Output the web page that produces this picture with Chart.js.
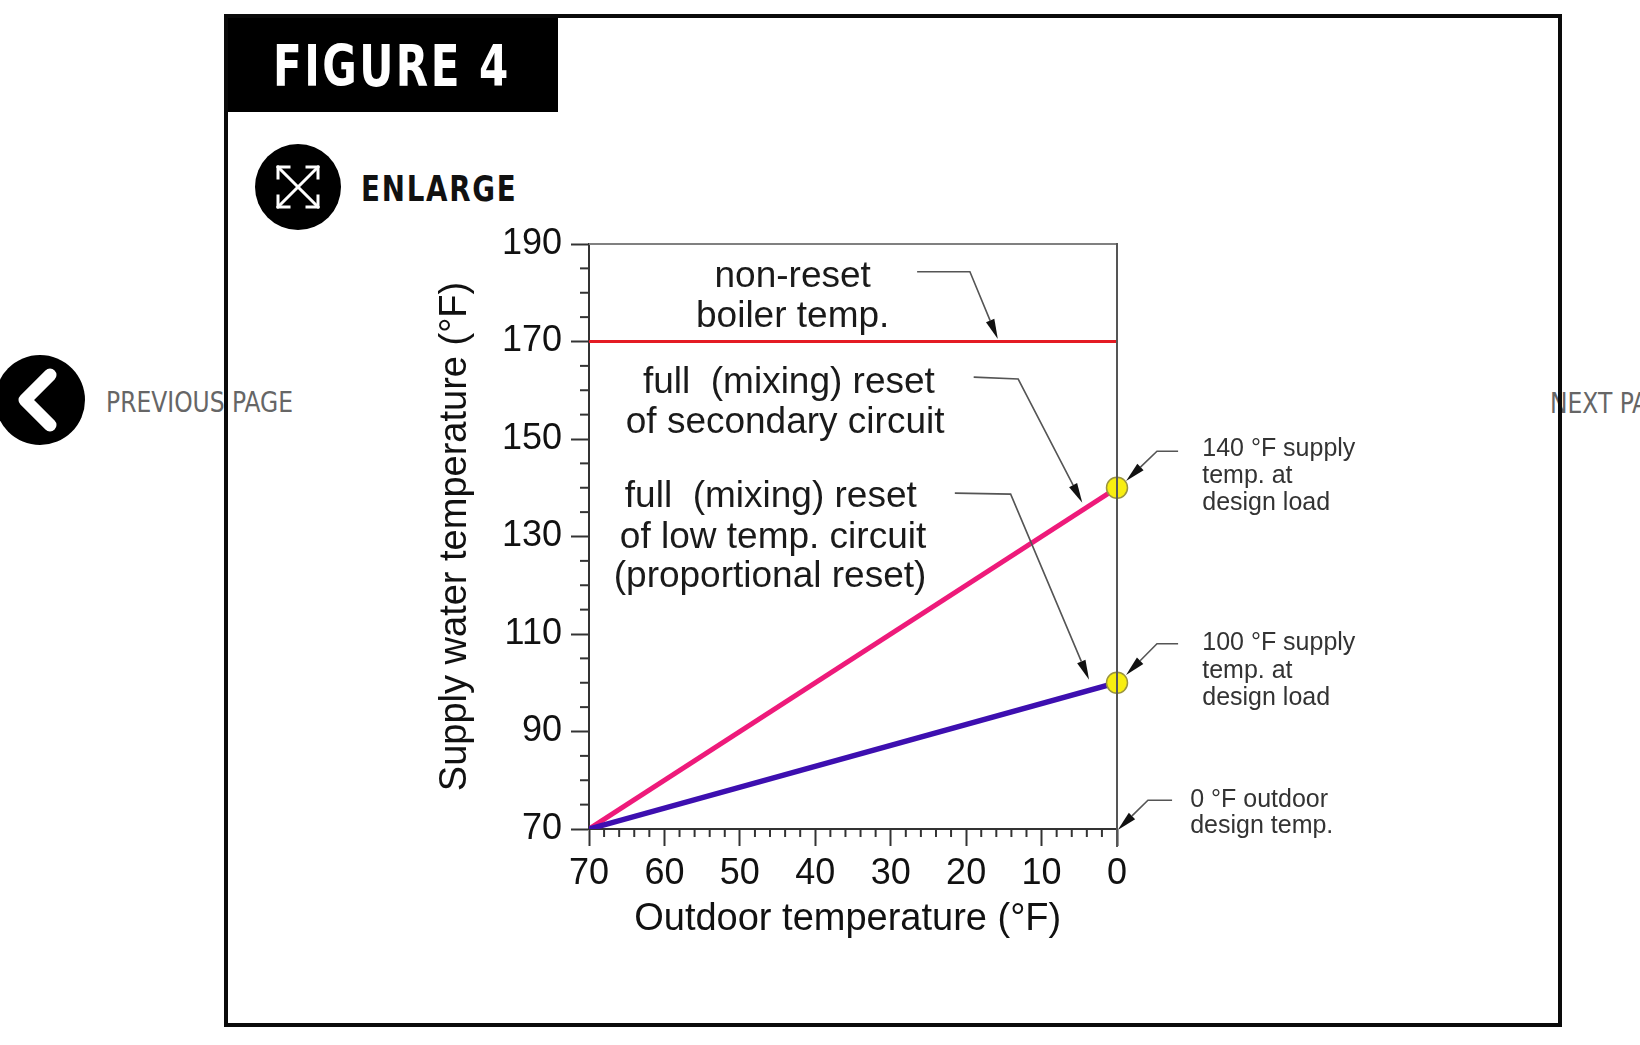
<!DOCTYPE html>
<html>
<head>
<meta charset="utf-8">
<script src="https://cdn.jsdelivr.net/npm/chart.js@4.4.0/dist/chart.umd.min.js"></script>
<style>
  body { margin: 0; background: #fff; overflow: hidden; width: 1640px; height: 1045px; position: relative; }
  .abs { position: absolute; }
  #frame { left: 224px; top: 14px; width: 1338px; height: 1013px; box-sizing: border-box; border: 4px solid #0a0a0a; }
  #titlebox { left: 228px; top: 18px; width: 330px; height: 94px; background: #000; }
  .narrow { font-family: "Liberation Sans Narrow", "DejaVu Sans Condensed", sans-serif; white-space: nowrap; transform-origin: 0 50%; }
  #figtitle { left: 273px; top: 38px; font-weight: bold; font-size: 57px; line-height: 57px; color: #fff; letter-spacing: 3px; transform: scaleX(0.82); }
  #enlarge { left: 361px; top: 172px; font-weight: bold; font-size: 35px; line-height: 35px; color: #111; letter-spacing: 2px; transform: scaleX(0.88); }
  .nav { font-size: 28px; line-height: 28px; color: #666; transform: scaleX(0.93); }
  #chartbox { left: 400px; top: 200px; width: 1000px; height: 760px; }
</style>
</head>
<body>
<svg class="abs" style="left:0;top:0" width="1640" height="1045">
  <!-- enlarge button -->
  <circle cx="298" cy="187" r="43" fill="#000"/>
  <g stroke="#fff" stroke-width="3" fill="none" stroke-linecap="square">
    <line x1="278" y1="167" x2="318" y2="207"/>
    <line x1="318" y1="167" x2="278" y2="207"/>
    <polyline points="278,178 278,167 289,167"/>
    <polyline points="307,167 318,167 318,178"/>
    <polyline points="278,196 278,207 289,207"/>
    <polyline points="307,207 318,207 318,196"/>
  </g>
  <!-- previous page button -->
  <circle cx="40" cy="400" r="45" fill="#000"/>
  <polyline points="50,375 25,400 50,425" stroke="#fff" stroke-width="13" fill="none" stroke-linecap="round" stroke-linejoin="round"/>
</svg>
<div class="abs nav narrow" style="left:106px;top:389px">PREVIOUS PAGE</div>
<div class="abs nav narrow" style="left:1550px;top:390px">NEXT PAGE</div>
<div id="titlebox" class="abs"></div>
<div id="figtitle" class="abs narrow">FIGURE 4</div>
<div id="enlarge" class="abs narrow">ENLARGE</div>
<div id="chartbox" class="abs"><canvas id="chart" width="1000" height="760"></canvas></div>
<div id="frame" class="abs"></div>
<script>
// chart values
const outdoorTemps = [70, 0];
const boilerSupply = [170, 170];
const secondarySupply = [70, 140];
const lowTempSupply = [70, 100];
const designOutdoor = [0, 0];
const designSupply = [140, 100];
const xTickValues = [70, 60, 50, 40, 30, 20, 10, 0];
const yTickValues = [70, 90, 110, 130, 150, 170, 190];

// annotation texts, anchored in data units (x = outdoor °F, y = supply °F)
const centerNotes = [
  ['non-reset', 43.0, 181.2],
  ['boiler temp.', 43.0, 173.0],
  ['full  (mixing) reset', 43.5, 159.4],
  ['of secondary circuit', 44.0, 151.2],
  ['full  (mixing) reset', 45.9, 136.1],
  ['of low temp. circuit', 45.6, 127.6],
  ['(proportional reset)', 46.0, 119.6]
];
const sideNotes = [
  ['140 °F supply', -11.3, 146.5],
  ['temp. at', -11.3, 141.0],
  ['design load', -11.3, 135.4],
  ['100 °F supply', -11.3, 106.7],
  ['temp. at', -11.3, 101.0],
  ['design load', -11.3, 95.4],
  ['0 °F outdoor', -9.7, 74.5],
  ['design temp.', -9.7, 69.2]
];
const leaders = [
  [[26.5, 184.3], [19.5, 184.3], [15.8, 170.5]],
  [[19.0, 162.7], [13.1, 162.3], [4.6, 136.9]],
  [[21.5, 138.9], [14.1, 138.7], [3.7, 100.6]],
  [[-8.1, 147.5], [-5.3, 147.5], [-1.2, 141.4]],
  [[-8.1, 108.0], [-5.3, 108.0], [-1.2, 101.6]],
  [[-7.3, 75.9], [-4.1, 75.9], [-0.1, 69.8]]
];

const pts = (xs, ys) => xs.map((x, i) => ({x: x, y: ys[i]}));

Chart.defaults.font.family = "'Liberation Sans', Arial, sans-serif";

const extras = {
  id: 'extras',
  afterDraw(chart) {
    const {ctx, chartArea: a, scales: {x, y}} = chart;
    ctx.save();
    // top and right frame of plot
    ctx.lineWidth = 2;
    ctx.strokeStyle = '#808080';
    ctx.beginPath(); ctx.moveTo(a.left, a.top); ctx.lineTo(a.right, a.top); ctx.stroke();
    ctx.strokeStyle = '#555';
    ctx.beginPath(); ctx.moveTo(a.right, a.top - 1); ctx.lineTo(a.right, a.bottom + 18); ctx.stroke();
    // minor ticks
    ctx.strokeStyle = '#333';
    for (let v = 70; v <= 190; v += 5) {
      if (yTickValues.includes(v)) continue;
      const py = y.getPixelForValue(v);
      ctx.beginPath(); ctx.moveTo(a.left - 9, py); ctx.lineTo(a.left, py); ctx.stroke();
    }
    for (let v = 0; v <= 70; v += 2) {
      if (xTickValues.includes(v)) continue;
      const px = x.getPixelForValue(v);
      ctx.beginPath(); ctx.moveTo(px, a.bottom); ctx.lineTo(px, a.bottom + 8); ctx.stroke();
    }
    // texts
    ctx.fillStyle = '#1a1a1a';
    ctx.font = "37px 'Liberation Sans', Arial, sans-serif";
    ctx.textAlign = 'center';
    ctx.textBaseline = 'alphabetic';
    centerNotes.forEach(n => ctx.fillText(n[0], x.getPixelForValue(n[1]), y.getPixelForValue(n[2])));
    ctx.fillStyle = '#333';
    ctx.font = "25px 'Liberation Sans', Arial, sans-serif";
    ctx.textAlign = 'left';
    sideNotes.forEach(n => ctx.fillText(n[0], x.getPixelForValue(n[1]), y.getPixelForValue(n[2])));
    // leader lines with arrows
    leaders.forEach(l => {
      const p = l.map(q => [x.getPixelForValue(q[0]), y.getPixelForValue(q[1])]);
      const [tx, ty] = p[2];
      const ang = Math.atan2(ty - p[1][1], tx - p[1][0]);
      const len = 20, hw = 4.5;
      const bx = tx - len * Math.cos(ang), by = ty - len * Math.sin(ang);
      ctx.strokeStyle = '#555';
      ctx.lineWidth = 1.6;
      ctx.beginPath();
      ctx.moveTo(p[0][0], p[0][1]); ctx.lineTo(p[1][0], p[1][1]); ctx.lineTo(bx, by);
      ctx.stroke();
      ctx.fillStyle = '#111';
      ctx.beginPath();
      ctx.moveTo(tx, ty);
      ctx.lineTo(bx + hw * Math.sin(ang), by - hw * Math.cos(ang));
      ctx.lineTo(bx - hw * Math.sin(ang), by + hw * Math.cos(ang));
      ctx.closePath(); ctx.fill();
    });
    ctx.restore();
  }
};

new Chart(document.getElementById('chart'), {
  type: 'scatter',
  data: {
    datasets: [
      { data: pts(outdoorTemps, boilerSupply), showLine: true, borderColor: '#e41b23', borderWidth: 3, pointRadius: 0, order: 3 },
      { data: pts(outdoorTemps, secondarySupply), showLine: true, borderColor: '#ee1a7a', borderWidth: 5, pointRadius: 0, order: 2 },
      { data: pts(outdoorTemps, lowTempSupply), showLine: true, borderColor: '#3d0fb0', borderWidth: 5.5, pointRadius: 0, order: 1 },
      { data: pts(designOutdoor, designSupply), showLine: false, pointRadius: 10.5, backgroundColor: '#f8ee10', borderColor: '#9a9440', borderWidth: 1.5, clip: false, order: 0 }
    ]
  },
  options: {
    responsive: false,
    animation: false,
    layout: { padding: { top: 44, right: 283, bottom: 0, left: 0 } },
    plugins: { legend: { display: false }, tooltip: { enabled: false } },
    scales: {
      x: {
        type: 'linear', reverse: true, min: 0, max: 70,
        afterFit: s => { s.height = 131; },
        afterBuildTicks: s => { s.ticks = xTickValues.map(v => ({value: v})); },
        ticks: { font: { size: 36 }, color: '#111', padding: 6, maxRotation: 0 },
        grid: { drawOnChartArea: false, tickLength: 17, tickWidth: 2, tickColor: '#333' },
        border: { color: '#333', width: 2 },
        title: { display: true, text: 'Outdoor temperature (°F) ', font: { size: 38 }, color: '#111', padding: { top: 0, bottom: 18 } }
      },
      y: {
        type: 'linear', min: 70, max: 190,
        afterFit: s => { s.width = 189; },
        afterBuildTicks: s => { s.ticks = yTickValues.map(v => ({value: v})); },
        ticks: { font: { size: 36 }, color: '#111', padding: 9 },
        grid: { drawOnChartArea: false, tickLength: 18, tickWidth: 2, tickColor: '#333' },
        border: { color: '#333', width: 2 },
        title: { display: true, text: 'Supply water temperature (°F)', font: { size: 38 }, color: '#111', padding: { top: 33, bottom: 0 } }
      }
    }
  },
  plugins: [extras]
});
</script>
</body>
</html>
